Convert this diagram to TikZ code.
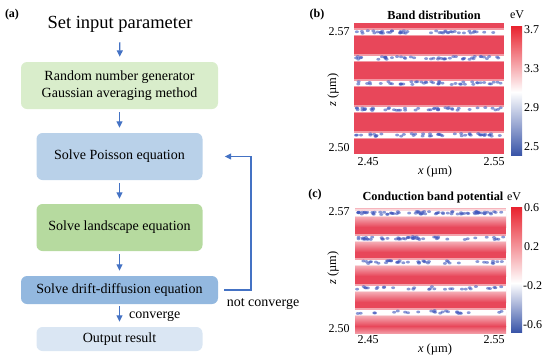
\documentclass[tikz,border=0pt]{standalone}
\usepackage{fontspec}
\setmainfont{Liberation Serif}
\usepackage{xcolor}
\usepackage{tikz}
\usetikzlibrary{arrows.meta}

\definecolor{flowblue}{HTML}{4472C4}
\definecolor{lightgreen}{HTML}{D9EDCB}
\definecolor{midgreen}{HTML}{B6DA9F}
\definecolor{paleblue}{HTML}{B9D1E9}
\definecolor{midblue}{HTML}{93B8DF}
\definecolor{faintblue}{HTML}{DAE6F3}
\definecolor{mapred}{HTML}{E8475A}
\definecolor{dotblue}{HTML}{3F55BC}
\definecolor{cbred}{HTML}{E8222E}
\definecolor{cbblue}{HTML}{3A55A8}

\tikzset{
  stagebox/.style={rounded corners=6pt, inner sep=0pt, align=center},
  flow/.style={flowblue, line width=1.3pt, -{Triangle[length=6.5pt,width=6pt]},
    shorten <=3pt, shorten >=5pt},
  ticklabel/.style={font=\fontsize{12}{14}\selectfont, inner sep=0pt},
  paneltitle/.style={font=\bfseries\fontsize{12.3}{14}\selectfont, inner sep=0pt},
  panelletter/.style={font=\bfseries\fontsize{12}{14}\selectfont, inner sep=0pt}
}

\begin{document}
\begin{tikzpicture}[x=1pt,y=-1pt,font=\fontsize{14}{16.5}\selectfont]
  \useasboundingbox (0,0) rectangle (550,360);
  % (a) flow chart
  \node[panelletter] (lettera) at (12,15) {(a)};
  \node[inner sep=2pt, font=\fontsize{18.5}{22}\selectfont] (setpar) at (120,24) {Set input parameter};
  \node[stagebox, fill=lightgreen, minimum width=197pt, minimum height=47pt] (rng) at (119.5,85.5)
    {Random number generator\\Gaussian averaging method};
  \node[stagebox, fill=paleblue, minimum width=166pt, minimum height=47pt] (poisson) at (119.5,156.5)
    {Solve Poisson equation};
  \node[stagebox, fill=midgreen, minimum width=166pt, minimum height=47pt] (landscape) at (119.5,227.5)
    {Solve landscape equation};
  \node[stagebox, fill=midblue, minimum width=197pt, minimum height=28pt] (drift) at (119.5,290)
    {Solve drift-diffusion equation};
  \node[stagebox, fill=faintblue, minimum width=166pt, minimum height=24pt] (output) at (119.5,339)
    {Output result};
  \coordinate (turn) at (251,290);

  \draw[flow, shorten <=8pt] (setpar) -- (rng);
  \draw[flow] (rng) -- (poisson);
  \draw[flow] (poisson) -- (landscape);
  \draw[flow] (landscape) -- (drift);
  \draw[flow, shorten <=2pt] (drift) -- (output);
  \draw[flow, shorten <=6pt, shorten >=22pt] (drift.east) -- (turn) |- (poisson.east);
  \node[anchor=base west, inner sep=0pt] (conv) at (129,318) {converge};
  \node[anchor=base, inner sep=0pt] (notconv) at (263,306) {not converge};

  % (b) band distribution
  \node[panelletter] (letterb) at (317,15) {(b)};
  \node[paneltitle] (titleb) at (434,15) {Band distribution};
  \node[ticklabel] (unitb) at (517,15) {eV};
  \fill[mapred] (354,23) rectangle (504,154);
  \pgfmathsetseed{11}
  \foreach \sy in {32,58,83,109,135} {
    \fill[white, opacity=.45] (354,\sy-4) rectangle (504,\sy+4);
    \fill[white] (354,\sy-2.5) rectangle (504,\sy+2.5);
    \foreach \k in {1,...,45} {
      \pgfmathsetmacro{\dx}{356+146*rnd}
      \pgfmathsetmacro{\dy}{\sy+1.5*rand}
      \fill[dotblue, opacity=.6] (\dx,\dy) ellipse [x radius=2pt, y radius=1.4pt];
    }
  }
  \shade[top color=cbred, bottom color=white] (511,26) rectangle (522,92);
  \shade[top color=white, bottom color=cbblue] (511,92) rectangle (522,155);
  \node[ticklabel, anchor=west] (cb37) at (524,30) {3.7};
  \node[ticklabel, anchor=west] (cb33) at (524,69) {3.3};
  \node[ticklabel, anchor=west] (cb29) at (524,108) {2.9};
  \node[ticklabel, anchor=west] (cb25) at (524,147) {2.5};
  \node[ticklabel] (bz57) at (339,32) {2.57};
  \node[ticklabel] (bz50) at (339,148) {2.50};
  \node[ticklabel] (bx45) at (368,162) {2.45};
  \node[ticklabel] (bx55) at (494,162) {2.55};
  \node[ticklabel, font=\fontsize{12.5}{14}\selectfont] (bxlab) at (435,171) {\textit{x} (µm)};
  \node[ticklabel, font=\fontsize{12.5}{14}\selectfont, rotate=90] (bzlab) at (333,90) {\textit{z} (µm)};

  % (c) conduction band potential
  \node[panelletter] (letterc) at (315,195) {(c)};
  \node[paneltitle] (titlec) at (433,198) {Conduction band potential};
  \node[ticklabel] (unitc) at (514,197) {eV};
  \fill[mapred] (355,208) rectangle (506,333);
  \fill[mapred!40!white] (355,208) rectangle (506,213);
  \foreach \ya in {213,238,262,288,312} {
    \shade[top color=mapred!25!white, bottom color=mapred] (355,\ya) rectangle (506,\ya+14);
  }
  \shade[top color=mapred, bottom color=mapred!55!white] (355,326) rectangle (506,333);
  \pgfmathsetseed{23}
  \foreach \sy/\nd in {213/75,238/50,262/40,288/30,312/25} {
    \fill[white, opacity=.5] (355,\sy-4) rectangle (506,\sy+4);
    \fill[white] (355,\sy-2.5) rectangle (506,\sy+2.5);
    \foreach \k in {1,...,\nd} {
      \pgfmathsetmacro{\dx}{357+147*rnd}
      \pgfmathsetmacro{\dy}{\sy+1.5*rand}
      \fill[dotblue, opacity=.6] (\dx,\dy) ellipse [x radius=2pt, y radius=1.4pt];
    }
  }
  \shade[top color=cbred, bottom color=white] (511,207) rectangle (522,283);
  \shade[top color=white, bottom color=cbblue] (511,283) rectangle (522,332);
  \node[ticklabel, anchor=west] (cc06) at (524,208) {0.6};
  \node[ticklabel, anchor=west] (cc02) at (524,247) {0.2};
  \node[ticklabel, anchor=west] (ccm02) at (523,286) {-0.2};
  \node[ticklabel, anchor=west] (ccm06) at (523,325) {-0.6};
  \node[ticklabel] (cz57) at (339,212) {2.57};
  \node[ticklabel] (cz50) at (339,329) {2.50};
  \node[ticklabel] (cx45) at (368,340) {2.45};
  \node[ticklabel] (cx55) at (494,340) {2.55};
  \node[ticklabel, font=\fontsize{12.5}{14}\selectfont] (cxlab) at (435,349) {\textit{x} (µm)};
  \node[ticklabel, font=\fontsize{12.5}{14}\selectfont, rotate=90] (czlab) at (333,268) {\textit{z} (µm)};
\end{tikzpicture}
\end{document}
